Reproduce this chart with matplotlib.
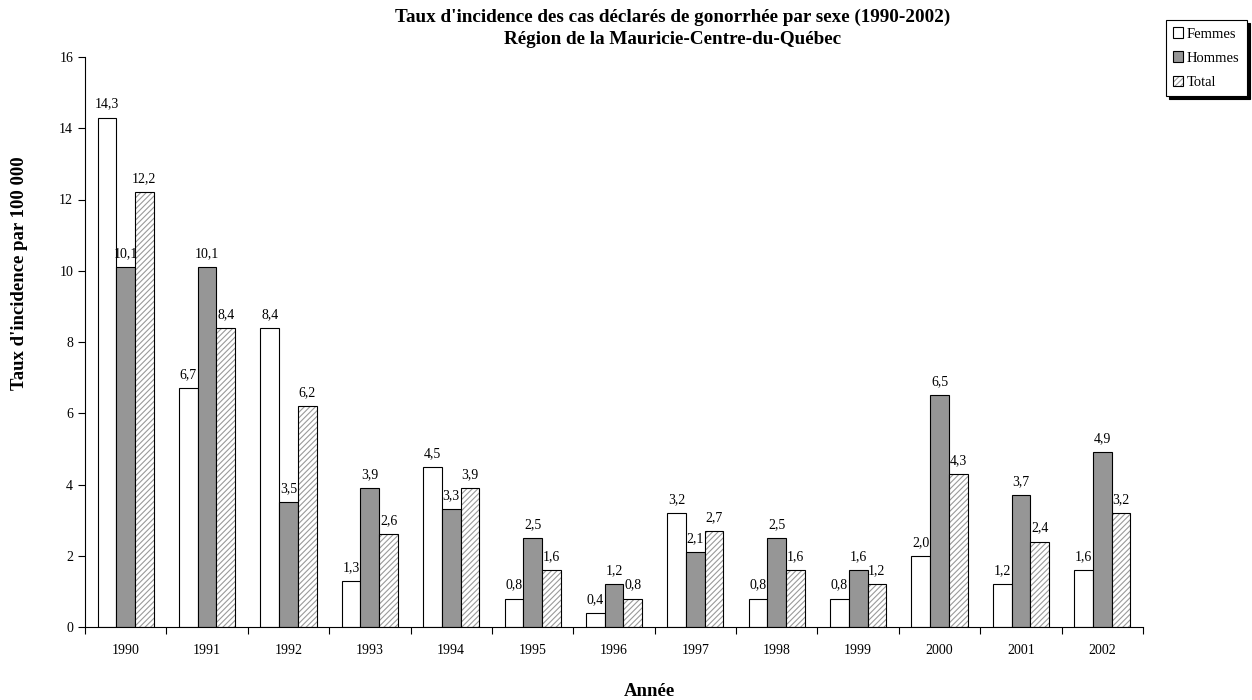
import matplotlib
matplotlib.use("Agg")
import matplotlib.pyplot as plt
from matplotlib.colors import to_rgba
import numpy as np

plt.rcParams['font.family'] = ['Liberation Serif', 'DejaVu Serif']
plt.rcParams['hatch.linewidth'] = 0.8

years = ['1990', '1991', '1992', '1993', '1994', '1995', '1996', '1997', '1998', '1999', '2000', '2001', '2002']
femmes = [14.3, 6.7, 8.4, 1.3, 4.5, 0.8, 0.4, 3.2, 0.8, 0.8, 2.0, 1.2, 1.6]
hommes = [10.1, 10.1, 3.5, 3.9, 3.3, 2.5, 1.2, 2.1, 2.5, 1.6, 6.5, 3.7, 4.9]
total = [12.2, 8.4, 6.2, 2.6, 3.9, 1.6, 0.8, 2.7, 1.6, 1.2, 4.3, 2.4, 3.2]

W, H = 1252, 700
fig = plt.figure(figsize=(W/100, H/100), dpi=100)
ax = fig.add_axes([85/W, 1 - 627/H, (1143-85)/W, (627-57)/H])

x = np.arange(len(years))
w = 0.23
b1 = ax.bar(x - w, femmes, w, color='white', edgecolor='black', linewidth=0.8, label='Femmes')
b2 = ax.bar(x, hommes, w, color='#969696', edgecolor='black', linewidth=0.8, label='Hommes')
b3 = ax.bar(x + w, total, w, color='white', edgecolor='black', hatch='//////', linewidth=0.8, label='Total')
grey = to_rgba('#9a9a9a')
for p in b3:
    p._hatch_color = grey
    if hasattr(p, 'set_hatchcolor'):
        p.set_hatchcolor(grey)

def fmt(v):
    return f"{v:.1f}".replace('.', ',')

for bars, vals in [(b1, femmes), (b2, hommes), (b3, total)]:
    for rect, v in zip(bars, vals):
        ax.annotate(fmt(v), (rect.get_x() + rect.get_width()/2, rect.get_height()),
                    xytext=(0, 5), textcoords='offset points', ha='center', va='bottom', fontsize=10)

ax.set_xlim(-0.5, len(years) - 0.5)
ax.set_ylim(0, 16)
ax.set_yticks(range(0, 17, 2))
ax.set_xticks(x)
ax.set_xticklabels(years)
ax.set_xticks(np.arange(-0.5, len(years)), minor=True)
ax.tick_params(axis='x', which='major', length=0, pad=12, labelsize=10)
ax.tick_params(axis='x', which='minor', length=5, direction='out', width=0.8)
ax.tick_params(axis='y', length=5, direction='out', labelsize=10, width=0.8)
for s in ['top', 'right']:
    ax.spines[s].set_visible(False)
ax.spines['left'].set_linewidth(0.8)
ax.spines['bottom'].set_linewidth(0.8)

fig.text(649/W, 1 - 692/H, 'Année', ha='center', va='center', fontsize=13.5, fontweight='bold')
fig.text(20/W, 1 - 273/H, "Taux d'incidence par 100 000", ha='center', va='center',
         rotation=90, fontsize=13.5, fontweight='bold')
fig.text(673/W, 1 - 17/H, "Taux d'incidence des cas déclarés de gonorrhée par sexe (1990-2002)",
         ha='center', va='center', fontsize=13.8, fontweight='bold')
fig.text(673/W, 1 - 40/H, "Région de la Mauricie-Centre-du-Québec",
         ha='center', va='center', fontsize=13.8, fontweight='bold')

leg = fig.legend(handles=[b1, b2, b3], loc='upper right', bbox_to_anchor=(1247/W, 1 - 20/H),
                 fontsize=10.5, frameon=True, fancybox=False,
                 shadow={'color': 'black', 'alpha': 1.0, 'ox': 2, 'oy': -2},
                 handlelength=0.7, handleheight=0.7, handletextpad=0.25, borderpad=0.5,
                 labelspacing=0.75, borderaxespad=0)
leg.get_frame().set_edgecolor('black')
leg.get_frame().set_linewidth(0.8)
for h in leg.legend_handles:
    if h.get_hatch():
        h._hatch_color = grey
        if hasattr(h, 'set_hatchcolor'):
            h.set_hatchcolor(grey)

fig.savefig('out.png', dpi=100)
